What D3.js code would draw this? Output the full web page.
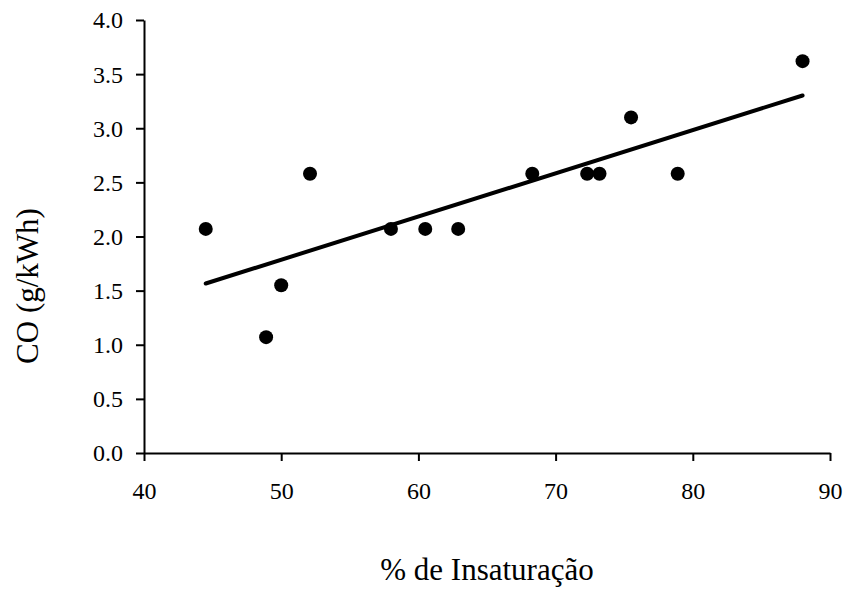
<!DOCTYPE html>
<html>
<head>
<meta charset="utf-8">
<script src="https://cdn.jsdelivr.net/npm/d3@7"></script>
<style>
  body { margin: 0; background: #fff; }
  text { font-family: "Liberation Serif", "Times New Roman", serif; fill: #000; }
</style>
</head>
<body>
<script>
// data
var insaturacao = [44.5, 48.9, 50.0, 52.1, 58.0, 60.5, 62.9, 68.3, 72.3, 73.2, 75.5, 78.9, 88.0];
var co = [2.07, 1.07, 1.55, 2.58, 2.07, 2.07, 2.07, 2.58, 2.58, 2.58, 3.10, 2.58, 3.62];
var xTicks = [40, 50, 60, 70, 80, 90];
var yTicks = [0, 0.5, 1, 1.5, 2, 2.5, 3, 3.5, 4];

var width = 848,
    height = 592;

var svg = d3.select("body")
    .append("svg")
    .attr("width", width)
    .attr("height", height);

var x = d3.scaleLinear().domain([40, 90]).range([144, 830]);
var y = d3.scaleLinear().domain([0, 4]).range([453, 20]);

//y axis
var yAxis = svg.append("g")
    .attr("transform", "translate(144,0)")
    .call(d3.axisLeft(y).tickValues(yTicks).tickSize(8).tickSizeOuter(0).tickFormat(d3.format(".1f")));

//x axis
var xAxis = svg.append("g")
    .attr("transform", "translate(0,453)")
    .call(d3.axisBottom(x).tickValues(xTicks).tickSize(8).tickSizeOuter(0));

svg.selectAll(".domain, .tick line")
    .attr("stroke", "#000")
    .attr("stroke-width", 2);

svg.selectAll(".tick text")
    .style("font-family", "'Liberation Serif', 'Times New Roman', serif")
    .style("font-size", "24px")
    .attr("fill", "#000");

yAxis.selectAll("text")
    .attr("x", -21)
    .attr("dy", "0.33em");
xAxis.selectAll("text")
    .attr("y", 46)
    .attr("dy", 0);

//linear trend (least squares)
var n = insaturacao.length,
    mx = d3.mean(insaturacao),
    my = d3.mean(co);
var sxy = 0, sxx = 0;
for (var i = 0; i < n; i++) {
    sxy += (insaturacao[i] - mx) * (co[i] - my);
    sxx += (insaturacao[i] - mx) * (insaturacao[i] - mx);
}
var slope = sxy / sxx,
    intercept = my - slope * mx;
var xMin = d3.min(insaturacao), xMax = d3.max(insaturacao);

svg.append("line")
    .attr("x1", x(xMin))
    .attr("y1", y(intercept + slope * xMin))
    .attr("x2", x(xMax))
    .attr("y2", y(intercept + slope * xMax))
    .attr("stroke", "#000")
    .attr("stroke-width", 4)
    .attr("stroke-linecap", "round");

//points
svg.selectAll(".pt")
    .data(d3.range(n))
    .enter()
    .append("circle")
    .attr("class", "pt")
    .attr("cx", function(i){ return x(insaturacao[i]); })
    .attr("cy", function(i){ return y(co[i]); })
    .attr("r", 7)
    .attr("fill", "#000");

//axis titles
svg.append("text")
    .attr("x", 487)
    .attr("y", 580)
    .attr("text-anchor", "middle")
    .style("font-size", "31px")
    .text("% de Insaturação");

svg.append("text")
    .attr("transform", "translate(38,286) rotate(-90)")
    .attr("text-anchor", "middle")
    .style("font-size", "31px")
    .text("CO (g/kWh)");
</script>
</body>
</html>
